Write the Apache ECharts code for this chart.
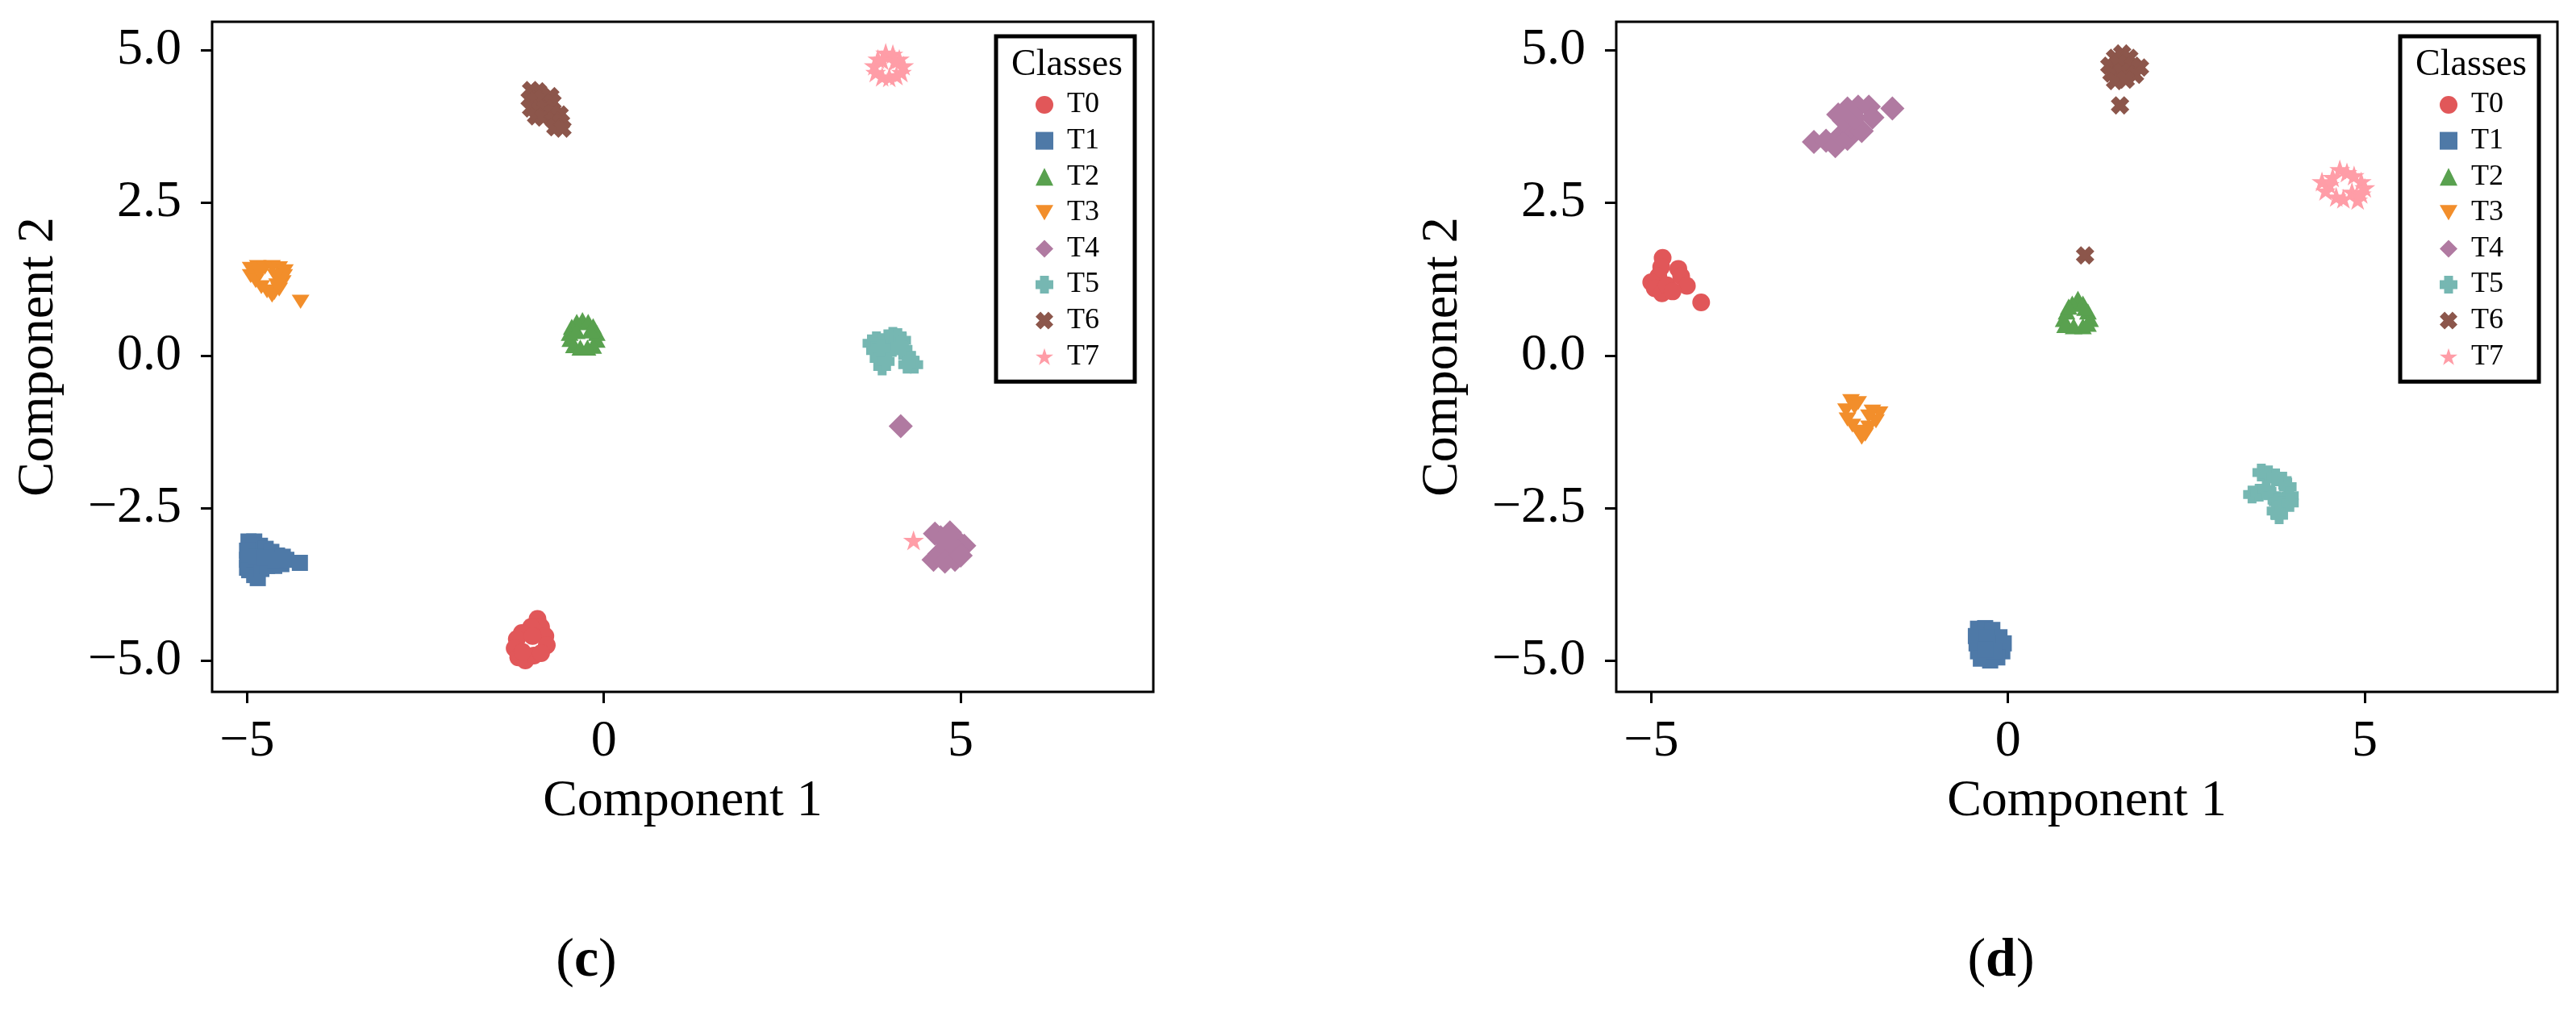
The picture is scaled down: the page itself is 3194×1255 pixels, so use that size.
<!DOCTYPE html>
<html>
<head>
<meta charset="utf-8">
<title>Component scatter (c) and (d)</title>
<script src="https://cdn.jsdelivr.net/npm/echarts@6/dist/echarts.min.js"></script>
<style>
    html, body { margin: 0; padding: 0; background: #fff; }
    #main { width: 3194px; height: 1255px; }
</style>
</head>
<body>
<div id="main"></div>
<script>
// class names, colours and markers
var classNames = ['T0', 'T1', 'T2', 'T3', 'T4', 'T5', 'T6', 'T7'];
var classColors = ['#e15759', '#4e79a7', '#59a14f', '#f28e2b', '#b07aa1', '#76b7b2', '#8c564b', '#ff9da7'];
var classSymbols = [
    'circle',
    'rect',
    'triangle',
    'path://M0,0 L10,0 L5,8.66 Z',
    'diamond',
    'path://M2.5,0 H7.5 V2.5 H10 V7.5 H7.5 V10 H2.5 V7.5 H0 V2.5 H2.5 Z',
    'path://M2.8,0 L5,2.2 L7.2,0 L10,2.8 L7.8,5 L10,7.2 L7.2,10 L5,7.8 L2.8,10 L0,7.2 L2.2,5 L0,2.8 Z',
    'path://M10,0 L12.245,6.91 L19.511,6.91 L13.633,11.18 L15.878,18.09 L10,13.82 L4.122,18.09 L6.367,11.18 L0.489,6.91 L7.755,6.91 Z'
];
var classSizes = [22, 20, [22, 20], [22, 20], 30, 22, 23, 26];

// tick labels
var xTicks = [-5, 0, 5];
var yTicks = [-5, -2.5, 0, 2.5, 5];
var panelLabels = ['c', 'd'];

// panel (c) points [component 1, component 2]
var c_T0 = [[-0.93,-4.32],[-0.88,-4.45],[-1.02,-4.45],[-1.15,-4.55],[-1.22,-4.65],[-0.82,-4.6],[-0.8,-4.75],
    [-1.25,-4.8],[-1.2,-4.95],[-1.1,-5.0],[-0.98,-4.92],[-0.88,-4.88],[-1.0,-4.6],[-1.14,-4.86]];
var c_T1 = [[-4.98,-3.05],[-4.9,-3.05],[-4.82,-3.12],[-4.74,-3.17],[-4.66,-3.22],[-4.58,-3.28],[-4.5,-3.3],
    [-5.0,-3.2],[-5.0,-3.35],[-5.0,-3.48],[-4.97,-3.52],[-4.9,-3.6],[-4.85,-3.65],[-4.8,-3.5],[-4.72,-3.45],
    [-4.62,-3.45],[-4.52,-3.42],[-4.88,-3.3],[-4.75,-3.32],[-4.6,-3.35],[-4.45,-3.35],[-4.26,-3.4]];
var c_T2 = [[-0.3,0.58],[-0.38,0.55],[-0.22,0.55],[-0.45,0.47],[-0.15,0.48],[-0.48,0.37],[-0.1,0.37],
    [-0.47,0.27],[-0.1,0.26],[-0.42,0.17],[-0.15,0.16],[-0.33,0.13],[-0.23,0.13],[-0.38,0.4],[-0.19,0.41]];
var c_T3 = [[-4.95,1.42],[-4.85,1.45],[-4.75,1.44],[-4.65,1.45],[-4.55,1.43],[-4.47,1.38],[-4.95,1.3],
    [-4.88,1.22],[-4.8,1.12],[-4.72,1.05],[-4.62,1.02],[-4.55,1.08],[-4.5,1.2],[-4.48,1.3],[-4.6,1.3],
    [-4.82,1.35],[-4.65,0.98],[-4.58,1.15],[-4.25,0.88]];
var c_T4 = [[4.64,-2.92],[4.72,-2.98],[4.85,-2.9],[4.92,-3.0],[5.05,-3.12],[4.95,-3.2],[4.8,-3.15],
    [4.7,-3.25],[4.62,-3.35],[4.78,-3.38],[4.92,-3.35],[5.0,-3.28],[4.16,-1.16]];
var c_T5 = [[3.75,0.2],[3.82,0.25],[3.9,0.22],[3.98,0.28],[4.05,0.32],[4.12,0.3],[4.18,0.25],[3.8,0.08],
    [3.85,-0.05],[3.9,-0.18],[3.95,-0.1],[3.98,0.05],[4.2,0.1],[4.25,0.0],[4.3,-0.08],[4.35,-0.15],
    [4.25,-0.15],[4.15,0.15],[3.88,0.12]];
var c_T6 = [[-1.02,4.35],[-0.92,4.33],[-1.04,4.2],[-0.95,4.18],[-0.85,4.22],[-0.75,4.25],[-0.72,4.15],
    [-1.02,4.05],[-0.92,4.0],[-0.82,4.05],[-0.95,3.92],[-0.85,3.9],[-0.72,3.98],[-0.62,3.95],[-0.7,3.85],
    [-0.6,3.82],[-0.68,3.74],[-0.58,3.72]];
var c_T7 = [[3.95,4.96],[4.05,4.94],[3.84,4.86],[4.14,4.86],[3.79,4.75],[4.2,4.75],[3.81,4.64],[4.17,4.64],
    [3.9,4.57],[4.0,4.56],[4.1,4.59],[3.9,4.84],[4.08,4.82],[4.34,-3.03]];

// panel (d) points
var d_T0 = [[-4.84,1.6],[-4.86,1.45],[-4.9,1.3],[-5.0,1.2],[-4.95,1.1],[-4.85,1.02],[-4.78,1.15],
    [-4.62,1.42],[-4.58,1.3],[-4.5,1.14],[-4.3,0.87],[-4.7,1.05]];
var d_T1 = [[-0.42,-4.48],[-0.32,-4.47],[-0.22,-4.5],[-0.45,-4.6],[-0.12,-4.62],[-0.44,-4.72],[-0.06,-4.72],
    [-0.42,-4.85],[-0.08,-4.85],[-0.38,-4.97],[-0.25,-5.0],[-0.15,-4.95],[-0.3,-4.62],[-0.2,-4.85],[-0.32,-4.82]];
var d_T2 = [[0.98,0.93],[0.9,0.85],[1.05,0.85],[0.82,0.72],[1.12,0.72],[0.78,0.6],[1.15,0.6],[0.8,0.5],
    [0.92,0.48],[1.05,0.48],[1.12,0.52],[0.85,0.8],[1.08,0.78]];
var d_T3 = [[-2.2,-0.75],[-2.1,-0.78],[-2.27,-0.9],[-1.9,-0.92],[-1.8,-0.95],[-2.25,-1.05],[-1.85,-1.08],
    [-2.18,-1.15],[-1.95,-1.18],[-2.1,-1.25],[-2.0,-1.3],[-2.05,-1.35],[-2.15,-0.85],[-1.95,-1.0]];
var d_T4 = [[-2.72,3.5],[-2.55,3.52],[-2.42,3.43],[-2.35,3.6],[-2.25,3.55],[-2.2,3.75],[-2.05,3.68],
    [-2.3,3.85],[-2.15,3.9],[-2.25,4.05],[-2.1,4.08],[-1.95,4.08],[-1.9,3.9],[-1.62,4.05],[-2.38,3.95]];
var d_T5 = [[3.55,-1.92],[3.65,-1.95],[3.75,-2.0],[3.85,-2.05],[3.92,-2.15],[3.95,-2.3],[3.42,-2.28],
    [3.52,-2.25],[3.62,-2.2],[3.7,-2.3],[3.78,-2.4],[3.85,-2.45],[3.75,-2.55],[3.8,-2.62],[3.95,-2.42]];
var d_T6 = [[1.6,4.95],[1.5,4.88],[1.7,4.88],[1.42,4.75],[1.55,4.78],[1.75,4.75],[1.85,4.72],[1.45,4.62],
    [1.6,4.65],[1.78,4.6],[1.5,4.5],[1.65,4.52],[1.57,4.1],[1.08,1.64]];
var d_T7 = [[4.65,3.05],[4.75,3.0],[4.85,2.95],[4.4,2.85],[4.5,2.8],[4.55,2.92],[4.95,2.85],[5.0,2.75],
    [4.45,2.7],[4.6,2.6],[4.7,2.57],[4.9,2.55],[4.82,2.68],[4.95,2.65]];

var panelData = [
    [c_T0, c_T1, c_T2, c_T3, c_T4, c_T5, c_T6, c_T7],
    [d_T0, d_T1, d_T2, d_T3, d_T4, d_T5, d_T6, d_T7]
];

var serif = 'Liberation Serif, Times New Roman, serif';
var gridLeft = [263, 2004];

function fmt(v) {
    return String(v).replace('-', '\u2212');
}
function fmtY(v) {
    return v.toFixed(1).replace('-', '\u2212');
}

var grids = [], xAxes = [], yAxes = [], series = [], legends = [], graphics = [];

for (var p = 0; p < 2; p++) {
    grids.push({
        left: gridLeft[p], top: 27, width: 1167, height: 831,
        show: true, borderColor: '#000', borderWidth: 3, backgroundColor: '#fff'
    });
    xAxes.push({
        type: 'value', gridIndex: p, min: -5.49, max: 7.7,
        name: 'Component 1', nameLocation: 'middle', nameGap: 104,
        nameTextStyle: { fontFamily: serif, fontSize: 64, color: '#000' },
        axisLine: { show: false, onZero: false },
        axisTick: { show: true, length: 14, customValues: xTicks, lineStyle: { color: '#000', width: 3 } },
        axisLabel: { customValues: xTicks, formatter: fmt, margin: 30, fontFamily: serif, fontSize: 64, color: '#000' },
        splitLine: { show: false }
    });
    yAxes.push({
        type: 'value', gridIndex: p, min: -5.515, max: 5.47,
        name: 'Component 2', nameLocation: 'middle', nameGap: 183, nameRotate: 90,
        nameTextStyle: { fontFamily: serif, fontSize: 64, color: '#000' },
        axisLine: { show: false, onZero: false },
        axisTick: { show: true, length: 14, customValues: yTicks, lineStyle: { color: '#000', width: 3 } },
        axisLabel: { customValues: yTicks, formatter: fmtY, margin: 38, fontFamily: serif, fontSize: 64, color: '#000' },
        splitLine: { show: false }
    });
    for (var k = 0; k < classNames.length; k++) {
        series.push({
            name: classNames[k],
            type: 'scatter',
            xAxisIndex: p, yAxisIndex: p,
            symbol: classSymbols[k],
            symbolSize: classSizes[k],
            symbolKeepAspect: true,
            itemStyle: { color: classColors[k], opacity: 1 },
            emphasis: { disabled: true },
            data: panelData[p][k]
        });
    }
    var legendLeft = gridLeft[p] + 1167 - 18 - 177;
    legends.push({
        data: classNames,
        orient: 'vertical',
        left: legendLeft, top: 45,
        selectedMode: false,
        backgroundColor: '#fff',
        borderColor: '#000', borderWidth: 5, borderRadius: 0,
        padding: [67, 44, 13, 49],
        itemWidth: 22, itemHeight: 22, itemGap: 8.6,
        textStyle: { fontFamily: serif, fontSize: 36, color: '#000', padding: [0, 0, 0, 12] }
    });
    graphics.push({
        type: 'text', x: legendLeft + 88, y: 81, z: 100,
        style: { text: 'Classes', font: '46px ' + serif, fill: '#000', align: 'center', verticalAlign: 'middle' }
    });
}

graphics.push({
    type: 'text', x: 727, y: 1192,
    style: {
        text: '{a|(}{b|' + panelLabels[0] + '}{a|)}', align: 'center', verticalAlign: 'middle',
        rich: { a: { fontFamily: serif, fontSize: 68, fill: '#000' }, b: { fontFamily: serif, fontSize: 68, fontWeight: 'bold', fill: '#000' } }
    }
});
graphics.push({
    type: 'text', x: 2481, y: 1192,
    style: {
        text: '{a|(}{b|' + panelLabels[1] + '}{a|)}', align: 'center', verticalAlign: 'middle',
        rich: { a: { fontFamily: serif, fontSize: 68, fill: '#000' }, b: { fontFamily: serif, fontSize: 68, fontWeight: 'bold', fill: '#000' } }
    }
});

var myChart = echarts.init(document.getElementById('main'));
myChart.setOption({
    backgroundColor: '#fff',
    animation: false,
    grid: grids,
    xAxis: xAxes,
    yAxis: yAxes,
    legend: legends,
    graphic: graphics,
    series: series
});
</script>
</body>
</html>
